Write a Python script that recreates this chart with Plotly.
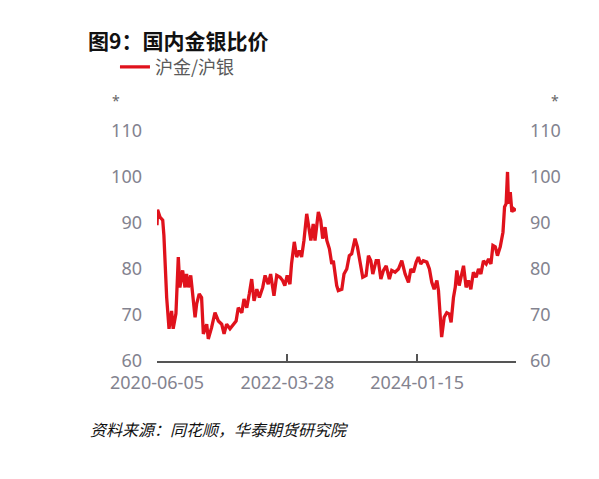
import plotly.graph_objects as go

dates = [
    "2020-06-05", "2020-06-08", "2020-06-20", "2020-07-04", "2020-07-10", "2020-07-20", "2020-07-24",
    "2020-08-05", "2020-08-18", "2020-08-26", "2020-09-09", "2020-09-21", "2020-09-29", "2020-10-13",
    "2020-10-25", "2020-11-02", "2020-11-11", "2020-11-23", "2020-12-03", "2020-12-15", "2020-12-23",
    "2021-01-05", "2021-01-17", "2021-01-26", "2021-02-12", "2021-02-20", "2021-03-09", "2021-03-26",
    "2021-04-12", "2021-04-29", "2021-05-11", "2021-05-24", "2021-06-10", "2021-06-27", "2021-07-11",
    "2021-07-22", "2021-08-09", "2021-08-20", "2021-09-03", "2021-09-16", "2021-09-28", "2021-10-10",
    "2021-10-24", "2021-11-06", "2021-11-23", "2021-12-05", "2021-12-21", "2022-01-02", "2022-01-19",
    "2022-02-02", "2022-02-19", "2022-03-04", "2022-03-15", "2022-03-27", "2022-04-10", "2022-04-18",
    "2022-05-02", "2022-05-14", "2022-05-27", "2022-06-08", "2022-06-20", "2022-07-04", "2022-07-15",
    "2022-07-25", "2022-08-06", "2022-08-15", "2022-09-01", "2022-09-13", "2022-09-23", "2022-10-05",
    "2022-10-14", "2022-10-27", "2022-11-08", "2022-11-16", "2022-12-03", "2022-12-11", "2022-12-29",
    "2023-01-09", "2023-01-23", "2023-02-05", "2023-02-17", "2023-03-06", "2023-03-18", "2023-04-01",
    "2023-04-14", "2023-05-01", "2023-05-13", "2023-05-25", "2023-06-04", "2023-06-21", "2023-07-02",
    "2023-07-15", "2023-07-28", "2023-08-11", "2023-08-27", "2023-09-08", "2023-09-25", "2023-10-12",
    "2023-10-29", "2023-11-15", "2023-12-02", "2023-12-14", "2023-12-27", "2024-01-10", "2024-01-21",
    "2024-02-02", "2024-02-15", "2024-03-04", "2024-03-17", "2024-03-29", "2024-04-10", "2024-04-24",
    "2024-05-02", "2024-05-10", "2024-05-18", "2024-05-31", "2024-06-13", "2024-06-26", "2024-07-05",
    "2024-07-17", "2024-07-26", "2024-08-03", "2024-08-15", "2024-08-24", "2024-09-06", "2024-09-19",
    "2024-10-01", "2024-10-13", "2024-10-26", "2024-11-09", "2024-11-21", "2024-12-03", "2024-12-16",
    "2024-12-30", "2025-01-11", "2025-01-23", "2025-02-02", "2025-02-14", "2025-02-25", "2025-03-11",
    "2025-03-25", "2025-04-02", "2025-04-10", "2025-04-17", "2025-04-22", "2025-05-01", "2025-05-09",
    "2025-05-18", "2025-05-30",
]

ratio = [
    89.5, 92.9, 91.3, 90.6, 87.3, 76.0, 73.8,
    67.0, 70.9, 67.0, 70.3, 82.6, 76.0, 79.7,
    76.0, 78.9, 76.0, 78.6, 74.6, 69.5, 72.4,
    74.6, 73.8, 65.9, 68.0, 64.8, 67.3, 70.5,
    68.7, 68.0, 65.9, 68.0, 67.0, 68.0, 68.7,
    71.6, 70.5, 73.5, 71.6, 74.6, 77.8, 73.1,
    75.6, 73.8, 76.0, 78.6, 76.7, 78.9, 74.2,
    78.6, 78.2, 77.5, 76.4, 78.6, 76.7, 81.1,
    85.9, 82.6, 84.0, 82.6, 86.2, 92.0, 88.4,
    86.2, 89.8, 86.2, 92.4, 90.6, 86.6, 89.1,
    86.2, 84.4, 81.1, 81.8, 76.4, 75.3, 75.6,
    78.9, 80.0, 82.9, 83.3, 86.6, 84.8, 81.8,
    78.2, 78.6, 82.9, 81.8, 78.9, 81.8, 81.8,
    77.8, 79.7, 80.7, 77.8, 79.7, 79.3, 80.0,
    81.8, 78.9, 77.1, 80.0, 79.3, 81.5, 82.6,
    81.1, 81.8, 81.5, 80.0, 77.1, 75.6, 77.5,
    75.3, 70.2, 65.2, 69.5, 70.5, 70.2, 68.4,
    73.8, 76.0, 79.7, 76.4, 78.2, 80.7, 76.0,
    77.5, 75.6, 79.3, 78.2, 80.0, 78.9, 81.8,
    81.1, 82.2, 81.1, 85.1, 84.8, 82.9, 84.8,
    88.0, 93.5, 94.2, 101.1, 94.2, 96.7, 92.4,
    93.1, 92.7,
]

x_tick_vals = ["2020-06-05", "2022-03-28", "2024-01-15", "2025-05-30"]
x_tick_text = ["2020-06-05", "2022-03-28", "2024-01-15", ""]
y_tick_vals = [60, 70, 80, 90, 100, 110]

series_name = "沪金/沪银"
title_text = "图9：国内金银比价"
source_text = "资料来源：同花顺，华泰期货研究院"

FONT = "Noto Sans, Noto Sans CJK SC, sans-serif"
CJK = "Noto Sans CJK SC, Noto Sans, sans-serif"
GRAY = "#83838f"
RED = "#e0121c"

# page has an 8px body margin: figure coordinates = page coordinates - 8
W, H = 591, 471
L, T = 149, 123
PW, PH = 358.7, 230.5
R = W - L - PW
B = H - T - PH

fig = go.Figure()
fig.add_trace(go.Scatter(x=dates, y=ratio, mode="lines", name=series_name,
                         line=dict(color=RED, width=3.3)))
fig.add_trace(go.Scatter(x=dates, y=ratio, mode="lines", yaxis="y2", showlegend=False,
                         hoverinfo="skip", line=dict(color="rgba(0,0,0,0)", width=0)))


def px(xp):
    return (xp - L) / PW


def py(yp):
    return 1 - (yp - T) / PH


fig.update_layout(
    width=W, height=H,
    margin=dict(l=L, r=R, t=T, b=B, pad=0),
    paper_bgcolor="white", plot_bgcolor="white",
    font=dict(family=FONT, color=GRAY, size=18),
    title=dict(text=title_text, xref="container", yref="container",
               x=80 / W, y=1 - 34 / H, xanchor="left", yanchor="middle",
               font=dict(family=CJK, size=21, color="#111111", weight="bold")),
    showlegend=True,
    legend=dict(orientation="h", x=px(107), y=py(59), xanchor="left", yanchor="middle",
                font=dict(family=CJK, size=18, color="#5a5a5a"), bgcolor="rgba(0,0,0,0)"),
    xaxis=dict(type="date", range=["2020-06-05", "2025-05-30"],
               tickvals=x_tick_vals, ticktext=x_tick_text,
               showgrid=False, zeroline=False, showline=True, linecolor="#555555", linewidth=1.5,
               ticks="inside", ticklen=7, tickwidth=1.5, tickcolor="#555555",
               ticklabelstandoff=5,
               tickfont=dict(family=FONT, size=18, color=GRAY)),
    yaxis=dict(range=[60, 110], tickvals=y_tick_vals, showgrid=False, zeroline=False,
               showline=False, ticks="", ticklabelstandoff=14,
               tickfont=dict(family=FONT, size=18, color=GRAY)),
    yaxis2=dict(range=[60, 110], tickvals=y_tick_vals, overlaying="y", side="right",
                showgrid=False, zeroline=False, showline=False, ticks="", ticklabelstandoff=13,
                tickfont=dict(family=FONT, size=18, color=GRAY)),
    annotations=[
        dict(text="*", xref="paper", yref="paper", x=px(108.5), y=py(92),
             xanchor="center", yanchor="middle",
             showarrow=False, font=dict(family=FONT, size=14, color="#666666")),
        dict(text="*", xref="paper", yref="paper", x=px(547), y=py(92),
             xanchor="center", yanchor="middle",
             showarrow=False, font=dict(family=FONT, size=14, color="#666666")),
        dict(text=source_text, xref="paper", yref="paper", x=px(80), y=py(422),
             xanchor="left", yanchor="middle", showarrow=False,
             font=dict(family=CJK, size=16, color="#111111", style="italic")),
        dict(text="图", xref="paper", yref="paper", x=px(584), y=py(34),
             xanchor="left", yanchor="middle", showarrow=False,
             font=dict(family=CJK, size=21, color="#111111", weight="bold")),
        dict(text="资", xref="paper", yref="paper", x=px(584), y=py(422),
             xanchor="left", yanchor="middle", showarrow=False,
             font=dict(family=CJK, size=16, color="#111111", style="italic")),
    ],
)

fig.write_html("out.html")
